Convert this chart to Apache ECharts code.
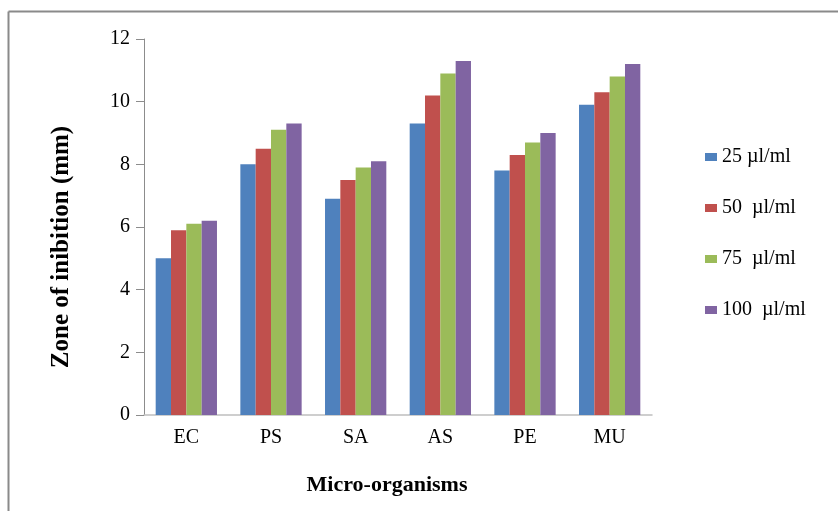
<!DOCTYPE html>
<html>
<head>
<meta charset="utf-8">
<script src="https://cdn.jsdelivr.net/npm/echarts@6/dist/echarts.min.js"></script>
<style>html,body{margin:0;padding:0;background:#fff;}#c{width:838px;height:511px;}</style>
</head>
<body>
<div id="c"></div>
<script>
const categories = ['EC', 'PS', 'SA', 'AS', 'PE', 'MU'];
const seriesNames = ['25 µl/ml', '50  µl/ml', '75  µl/ml', '100  µl/ml'];
const s25 = [5.0, 8.0, 6.9, 9.3, 7.8, 9.9];
const s50 = [5.9, 8.5, 7.5, 10.2, 8.3, 10.3];
const s75 = [6.1, 9.1, 7.9, 10.9, 8.7, 10.8];
const s100 = [6.2, 9.3, 8.1, 11.3, 9.0, 11.2];
const yTicks = [0, 2, 4, 6, 8, 10, 12];

const colors = ['#4F81BD', '#C0504D', '#9BBB59', '#8064A2'];
const data = [s25, s50, s75, s100];
const font = '"Liberation Serif", "Times New Roman", serif';

const chart = echarts.init(document.getElementById('c'));
chart.setOption({
  animation: false,
  backgroundColor: '#fff',
  textStyle: { fontFamily: font },
  grid: { left: 144, right: 186, top: 39, bottom: 96, containLabel: false },
  graphic: [
    { type: 'line', shape: { x1: 8.5, y1: 11.5, x2: 838, y2: 11.5 }, style: { stroke: '#8a8a8a', lineWidth: 2 } },
    { type: 'line', shape: { x1: 8.5, y1: 11.5, x2: 8.5, y2: 511 }, style: { stroke: '#8a8a8a', lineWidth: 2 } }
  ],
  legend: {
    orient: 'vertical',
    left: 700,
    top: 142,
    itemWidth: 12,
    itemHeight: 8,
    itemGap: 31,
    icon: 'rect',
    textStyle: { fontFamily: font, fontSize: 20, color: '#000' },
    data: seriesNames
  },
  xAxis: {
    type: 'category',
    data: categories,
    name: 'Micro-organisms',
    nameLocation: 'middle',
    nameGap: 59,
    nameTextStyle: { fontFamily: font, fontSize: 22, fontWeight: 'bold', color: '#000', padding: [0, 22, 0, 0] },
    axisLine: { lineStyle: { color: '#BFBFBF', width: 1.5 } },
    axisTick: { show: false },
    axisLabel: { fontFamily: font, fontSize: 20, color: '#000', margin: 13 }
  },
  yAxis: {
    type: 'value',
    min: 0,
    max: 12,
    interval: 2,
    name: 'Zone of inibition (mm)',
    nameLocation: 'middle',
    nameGap: 70,
    nameRotate: 90,
    nameTextStyle: { fontFamily: font, fontSize: 25, fontWeight: 'bold', color: '#000', padding: [0, 40, 0, 0] },
    axisLine: { show: true, lineStyle: { color: '#8C8C8C', width: 1 } },
    axisTick: { show: true, length: 8, lineStyle: { color: '#8C8C8C' } },
    splitLine: { show: false },
    axisLabel: {
      fontFamily: font, fontSize: 20, color: '#000', margin: 14,
      formatter: function (v) { return yTicks.indexOf(v) >= 0 ? String(v) : ''; }
    }
  },
  series: data.map(function (d, i) {
    return {
      name: seriesNames[i],
      type: 'bar',
      data: d,
      barGap: '0%',
      barCategoryGap: '27.6%',
      itemStyle: { color: colors[i] }
    };
  })
});
</script>
</body>
</html>
